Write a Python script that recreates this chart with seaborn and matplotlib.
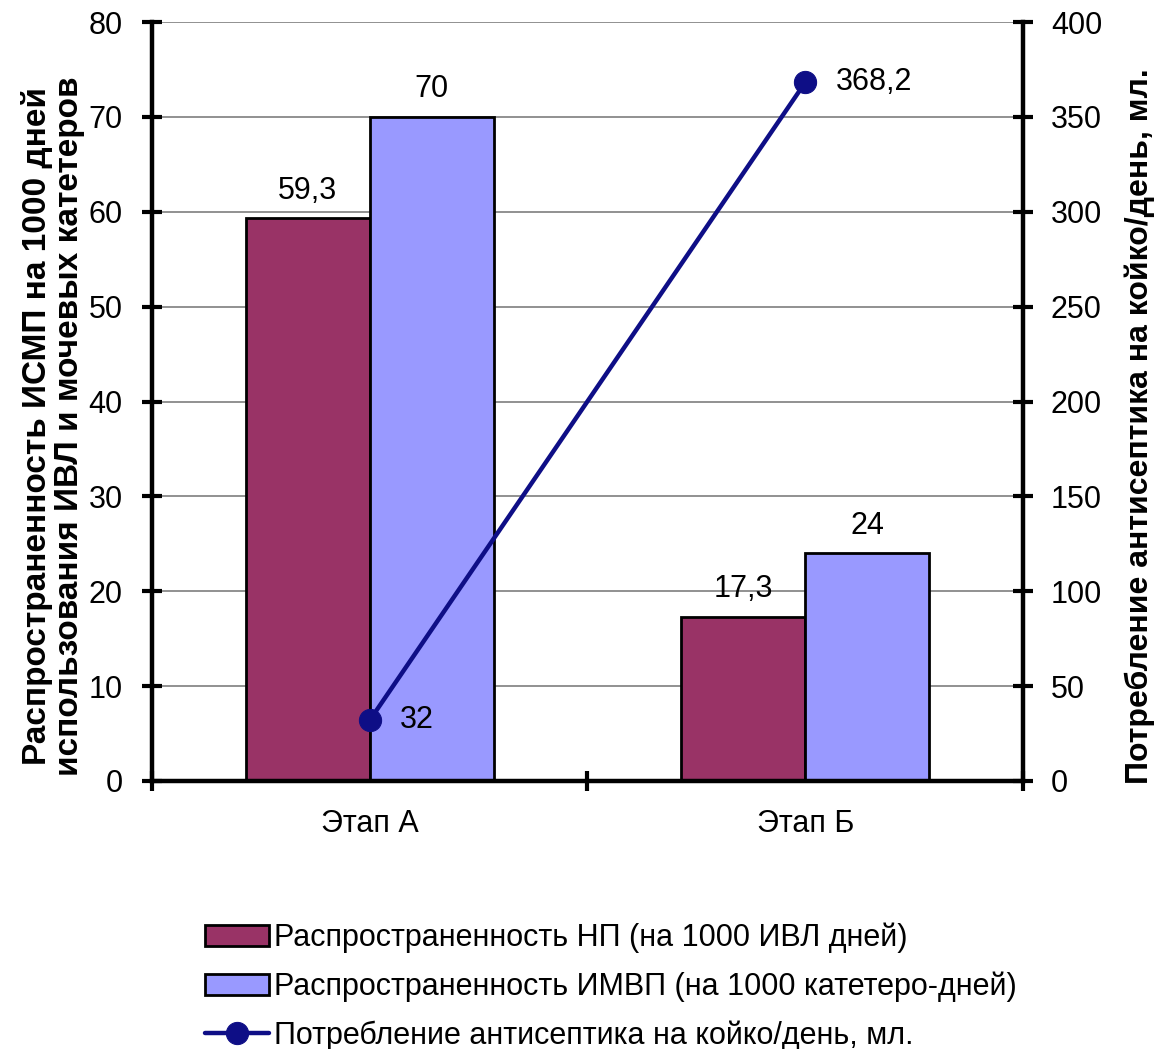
import matplotlib
matplotlib.use("Agg")
import matplotlib.pyplot as plt
from matplotlib import font_manager
import seaborn as sns
import pandas as pd

# --- data ---
stages = ["Этап А", "Этап Б"]
series_names = [
    "Распространенность НП (на 1000 ИВЛ дней)",
    "Распространенность ИМВП (на 1000 катетеро-дней)",
]
np_values = [59.3, 17.3]
imvp_values = [70, 24]
antiseptic_name = "Потребление антисептика на койко/день, мл."
antiseptic_values = [32, 368.2]

left_ticks = [0, 10, 20, 30, 40, 50, 60, 70, 80]
right_ticks = [0, 50, 100, 150, 200, 250, 300, 350, 400]

left_label = "Распространенность ИСМП на 1000 дней\nиспользования ИВЛ и мочевых катетеров"
right_label = "Потребление антисептика на койко/день, мл."

bar_colors = ["#993366", "#9999FF"]
line_color = "#0E0E86"

sns.set_theme(style="white")
installed = {f.name for f in font_manager.fontManager.ttflist}
narrow = "Liberation Sans Narrow" if "Liberation Sans Narrow" in installed else "Liberation Sans"
plt.rcParams["font.family"] = ["Liberation Sans", "DejaVu Sans"]
for key in ("text.color", "axes.labelcolor", "xtick.color", "ytick.color"):
    plt.rcParams[key] = "black"


def fmt(v):
    return f"{v:g}".replace(".", ",")


df = pd.DataFrame({
    "stage": stages * 2,
    "series": [series_names[0]] * 2 + [series_names[1]] * 2,
    "value": np_values + imvp_values,
})

fig = plt.figure(figsize=(11.59, 10.49), dpi=100)
ax = fig.add_axes([0.1311, 0.2555, 0.8827 - 0.1311, 0.979 - 0.2555])

sns.barplot(data=df, x="stage", y="value", hue="series", palette=bar_colors,
            width=0.57, edgecolor="black", linewidth=2, saturation=1,
            ax=ax, legend=True)

ax.set_xlim(-0.5, 1.5)
ax.set_ylim(0, 80)
ax.set_yticks(left_ticks)
ax.yaxis.grid(True, color="#888888", linewidth=1.3)
ax.set_axisbelow(True)

for cont in ax.containers:
    vals = [b.get_height() for b in cont]
    ax.bar_label(cont, labels=[fmt(v) for v in vals], padding=9, fontsize=22)

# secondary axis with the antiseptic line
ax2 = ax.twinx()
sns.lineplot(x=[0, 1], y=antiseptic_values, color=line_color, linewidth=3.2,
             marker="o", markersize=16, markeredgecolor=line_color,
             label=antiseptic_name, ax=ax2, legend=False)
ax2.set_ylim(0, 400)
ax2.set_yticks(right_ticks)
for x, v in zip([0, 1], antiseptic_values):
    ax2.annotate(fmt(v), (x, v), xytext=(22, 0), textcoords="offset points",
                 va="center", ha="left", fontsize=22)

# spines and ticks
for a in (ax, ax2):
    a.spines["top"].set_visible(False)
    for side in ("left", "right", "bottom"):
        a.spines[side].set_color("black")
        a.spines[side].set_linewidth(3.2)
ax.spines["right"].set_visible(False)
ax2.spines["left"].set_visible(False)
ax2.spines["bottom"].set_visible(False)

ax.tick_params(axis="y", which="major", direction="inout", length=14, width=3,
               labelsize=22, pad=14, left=True)
ax2.tick_params(axis="y", which="major", direction="inout", length=14, width=3,
                labelsize=22, pad=13, right=True)
ax.set_xticks([0, 1])
ax.set_xticklabels(stages)
ax.set_xticks([-0.5, 0.5, 1.5], minor=True)
ax.tick_params(axis="x", which="major", length=0, labelsize=22, pad=20)
ax.tick_params(axis="x", which="minor", direction="inout", length=14, width=3, bottom=True)

ax.set_xlabel("")
ax.set_ylabel(left_label, fontsize=24, fontweight="bold", family=[narrow, "DejaVu Sans"],
              linespacing=1.05)
ax.yaxis.set_label_coords(-0.077, 0.468)
ax2.set_ylabel(right_label, fontsize=23, fontweight="bold", family=[narrow, "DejaVu Sans"])
ax2.yaxis.set_label_coords(1.117, 0.468)

# legend below the plot
handles, labels = ax.get_legend_handles_labels()
h2, l2 = ax2.get_legend_handles_labels()
ax.get_legend().remove()
leg = fig.legend(handles + h2, labels + l2, loc="upper left",
                 bbox_to_anchor=(0.1664, 0.132), frameon=False,
                 prop={"family": [narrow, "DejaVu Sans"], "size": 22},
                 labelspacing=0.6, handlelength=2.1, handleheight=0.65,
                 handletextpad=0.15, borderaxespad=0)

fig.savefig("out.png", dpi=100)
